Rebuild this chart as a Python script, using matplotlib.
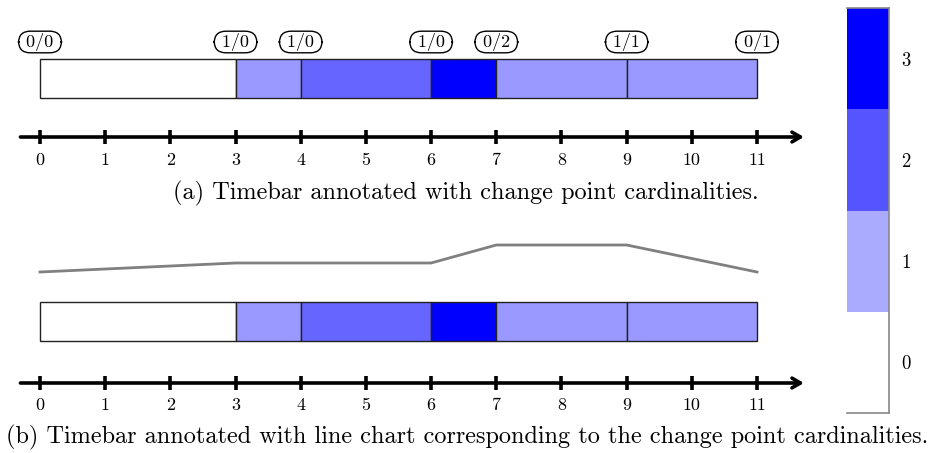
import matplotlib.pyplot as plt

plt.rcParams['font.family'] = ['cmr10', 'DejaVu Serif']
plt.rcParams['mathtext.fontset'] = 'cm'

# change points on the time axis and the segments between them
change_points = [0, 3, 4, 6, 7, 9, 11]
seg_counts = [0, 1, 2, 3, 1, 1]
cardinalities = ['0/0', '1/0', '1/0', '1/0', '0/2', '1/1', '0/1']
tick_values = list(range(12))

# line chart for panel (b)
line_x = [0, 3, 6, 7, 9, 11]
line_y = [0, 1, 1, 3, 3, 0]

bar_colors = {0: '#ffffff', 1: '#9999ff', 2: '#6666ff', 3: '#0000ff'}
cbar_levels = [0, 1, 2, 3]
cbar_colors = ['#ffffff', '#aaaaff', '#5555ff', '#0000ff']

W, H = 937, 453
fig = plt.figure(figsize=(W / 100, H / 100), dpi=100)

# main axes: x in time units, y in layout units (pixels from top)
ax_w = 830
ax = fig.add_axes([0, 0, ax_w / W, 1])
unit = (757 - 40) / 11.0
ax.set_xlim(-40 / unit, (ax_w - 40) / unit)
ax.set_ylim(H, 0)
ax.axis('off')


def timebar(y_top, y_bot):
    for i in range(len(seg_counts)):
        x0, x1 = change_points[i], change_points[i + 1]
        ax.bar(x0, y_bot - y_top, width=x1 - x0, bottom=y_top, align='edge',
               color=bar_colors[seg_counts[i]], edgecolor='#222222', linewidth=1.0)


def time_axis(y, label_y):
    ax.annotate('', xy=(11.72, y), xytext=(-0.3, y),
                arrowprops=dict(arrowstyle='->,head_length=0.6,head_width=0.35',
                                lw=2.6, color='black', shrinkA=0, shrinkB=0))
    for t in tick_values:
        ax.plot([t, t], [y - 7, y + 7], color='black', lw=2.6, solid_capstyle='butt')
        ax.text(t, label_y, str(t), ha='center', va='center', fontsize=13)


# panel (a)
timebar(59, 98)
for x, lab in zip(change_points, cardinalities):
    ax.text(x, 42, ' ' + lab + ' ', ha='center', va='center', fontsize=13,
            bbox=dict(boxstyle='round,pad=0.1,rounding_size=0.65', fc='white',
                      ec='black', lw=1.0))
time_axis(137, 160)
fig.text(466 / W, 1 - 193 / H, '(a) Timebar annotated with change point cardinalities.',
         ha='center', va='center', fontsize=17.5)

# panel (b)
base, step = 272, 9
ax.plot(line_x, [base - step * v for v in line_y], color='#808080', lw=2.0)
timebar(302, 341)
time_axis(383, 405)
fig.text(467 / W, 1 - 437 / H,
         '(b) Timebar annotated with line chart corresponding to the change point cardinalities.',
         ha='center', va='center', fontsize=17.5)

# colour scale
cax = fig.add_axes([847 / W, (H - 413) / H, 42 / W, 405 / H])
cax.bar([0] * len(cbar_levels), [1] * len(cbar_levels), bottom=cbar_levels,
        width=1, align='edge', color=cbar_colors, linewidth=0)
cax.set_xlim(0, 1)
cax.set_ylim(0, 4)
cax.set_xticks([])
cax.set_yticks([v + 0.5 for v in cbar_levels])
cax.set_yticklabels([str(v) for v in cbar_levels], fontsize=13.5)
cax.yaxis.tick_right()
cax.tick_params(axis='y', length=0, pad=9)
cax.spines['left'].set_visible(False)
for s in ['right', 'top', 'bottom']:
    cax.spines[s].set_color('#888888')
    cax.spines[s].set_linewidth(1.2)

fig.savefig('out.png', dpi=100)
